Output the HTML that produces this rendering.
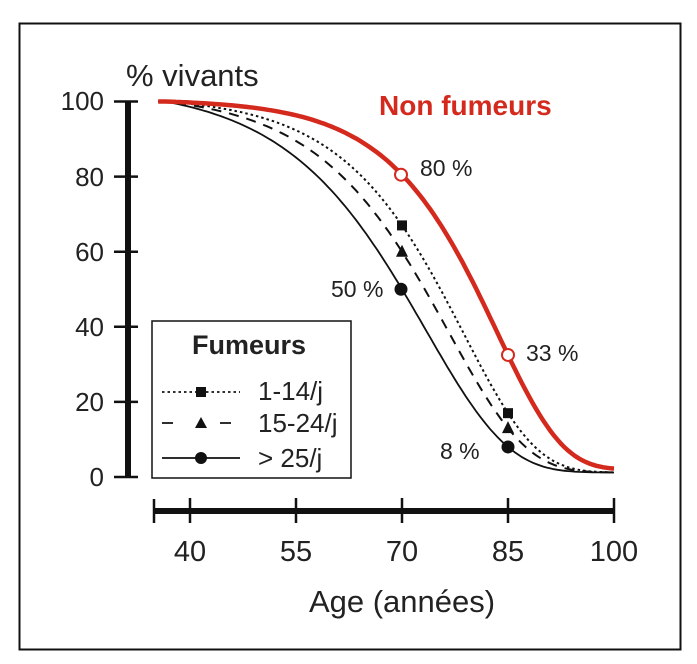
<!DOCTYPE html><html><head><style>body{margin:0;background:#fff}svg{display:block}text{font-family:"Liberation Sans",sans-serif}</style></head><body>
<svg id="s" width="697" height="664" viewBox="0 0 697 664">
<rect x="19.5" y="23.5" width="661" height="626" fill="none" stroke="#111" stroke-width="2"/>
<text x="126" y="86" font-size="31" fill="#222">% vivants</text>
<g stroke="#111" stroke-width="6"><line x1="128" y1="101" x2="128" y2="477"/></g>
<g stroke="#111" stroke-width="2.5">
<line x1="114" y1="101.5" x2="138" y2="101.5"/><line x1="114" y1="176.6" x2="138" y2="176.6"/><line x1="114" y1="251.7" x2="138" y2="251.7"/><line x1="114" y1="326.8" x2="138" y2="326.8"/><line x1="114" y1="401.9" x2="138" y2="401.9"/><line x1="114" y1="477" x2="138" y2="477"/></g>
<g font-size="26" fill="#222" text-anchor="end">
<text x="104" y="110">100</text><text x="104" y="186">80</text><text x="104" y="261">60</text><text x="104" y="336">40</text><text x="104" y="411">20</text><text x="104" y="486">0</text></g>
<line x1="154" y1="511" x2="614" y2="511" stroke="#111" stroke-width="6"/>
<g stroke="#111" stroke-width="2.5"><line x1="154" y1="499" x2="154" y2="523"/><line x1="190" y1="498" x2="190" y2="523"/><line x1="296" y1="498" x2="296" y2="523"/><line x1="402" y1="498" x2="402" y2="523"/><line x1="508" y1="498" x2="508" y2="523"/><line x1="614" y1="498" x2="614" y2="523"/></g>
<g font-size="29" fill="#222" text-anchor="middle"><text x="190" y="561">40</text><text x="296" y="561">55</text><text x="402" y="561">70</text><text x="508" y="561">85</text><text x="614" y="561">100</text></g>
<text x="402" y="612" font-size="31" fill="#222" text-anchor="middle">Age (années)</text>
<text x="379" y="115" font-size="28" font-weight="bold" fill="#d42a1e">Non fumeurs</text>
<g font-size="23" fill="#222"><text x="420" y="176">80 %</text><text x="526" y="361">33 %</text><text x="331" y="297">50 %</text><text x="440" y="459">8 %</text></g>
<g id="curves"></g>
<rect x="152" y="321" width="199" height="157" fill="#fff" stroke="#111" stroke-width="1.5"/>
<text x="249" y="354" font-size="27" font-weight="bold" fill="#222" text-anchor="middle">Fumeurs</text>
<line x1="162" y1="392" x2="240" y2="392" stroke="#111" stroke-width="1.8" stroke-dasharray="2.5,3"/><rect x="196" y="387" width="10" height="10" fill="#111"/>
<line x1="162" y1="423" x2="240" y2="423" stroke="#111" stroke-width="1.8" stroke-dasharray="11,18"/><rect x="190" y="415" width="22" height="16" fill="#fff"/><polygon points="201,417 207,428 195,428" fill="#111"/>
<line x1="162" y1="458" x2="240" y2="458" stroke="#111" stroke-width="1.8"/><circle cx="201" cy="458" r="6" fill="#111"/>
<g font-size="26" fill="#222"><text x="258" y="400">1-14/j</text><text x="258" y="432">15-24/j</text><text x="258" y="467">&gt; 25/j</text></g>
</svg>
<script>
const X=a=>190+(a-40)*7.0667, Y=v=>477-3.755*v, A0=36.5;
function fit(v70,v85,f){
  const t70=(v70-f)/(1-f), t85=(v85-f)/(1-f);
  const r=Math.log(t85)/Math.log(t70);
  const g=s=>(Math.exp(85/s)-Math.exp(A0/s))/(Math.exp(70/s)-Math.exp(A0/s))-r;
  let lo=2,hi=60;for(let i=0;i<80;i++){const mid=(lo+hi)/2; if(g(mid)>0) lo=mid; else hi=mid;}
  const s=(lo+hi)/2; const K=-Math.log(t70)/(Math.exp(70/s)-Math.exp(A0/s));
  return a=>{const aa=Math.max(a,A0);return 100*(f+(1-f)*Math.exp(-K*(Math.exp(aa/s)-Math.exp(A0/s))));};
}
function path(fn){let d="";for(let a=35.5;a<=100.01;a+=0.5){d+=(d?" L":"M")+X(a).toFixed(1)+","+Y(fn(a)).toFixed(1);}return d;}
const C=[[fit(.50,.08,.012),"#111",1.8,""],[fit(.60,.13,.012),"#111",2,"10,8"],[fit(.67,.17,.012),"#111",2,"2.5,3"],[fit(.805,.325,.02),"#d42a1e",4.5,""]];
let h="";for(const c of C)h+='<path d="'+path(c[0])+'" fill="none" stroke="'+c[1]+'" stroke-width="'+c[2]+'"'+(c[3]?' stroke-dasharray="'+c[3]+'"':'')+'/>';
const y=Y;
h+='<rect x="397" y="'+(y(67)-5)+'" width="10" height="10" fill="#111"/><rect x="503" y="'+(y(17)-5)+'" width="10" height="10" fill="#111"/>';
h+='<polygon points="402,'+(y(60)-7)+' 408,'+(y(60)+5)+' 396,'+(y(60)+5)+'" fill="#111"/><polygon points="508,'+(y(13)-7)+' 514,'+(y(13)+5)+' 502,'+(y(13)+5)+'" fill="#111"/>';
h+='<circle cx="401" cy="'+y(50)+'" r="6.5" fill="#111"/><circle cx="508" cy="'+y(8)+'" r="6.5" fill="#111"/>';
h+='<circle cx="401" cy="'+y(80.5)+'" r="6" fill="#fff" stroke="#d42a1e" stroke-width="2"/><circle cx="508" cy="'+y(32.5)+'" r="6" fill="#fff" stroke="#d42a1e" stroke-width="2"/>';
document.getElementById("curves").innerHTML=h;
</script>
</body></html>
